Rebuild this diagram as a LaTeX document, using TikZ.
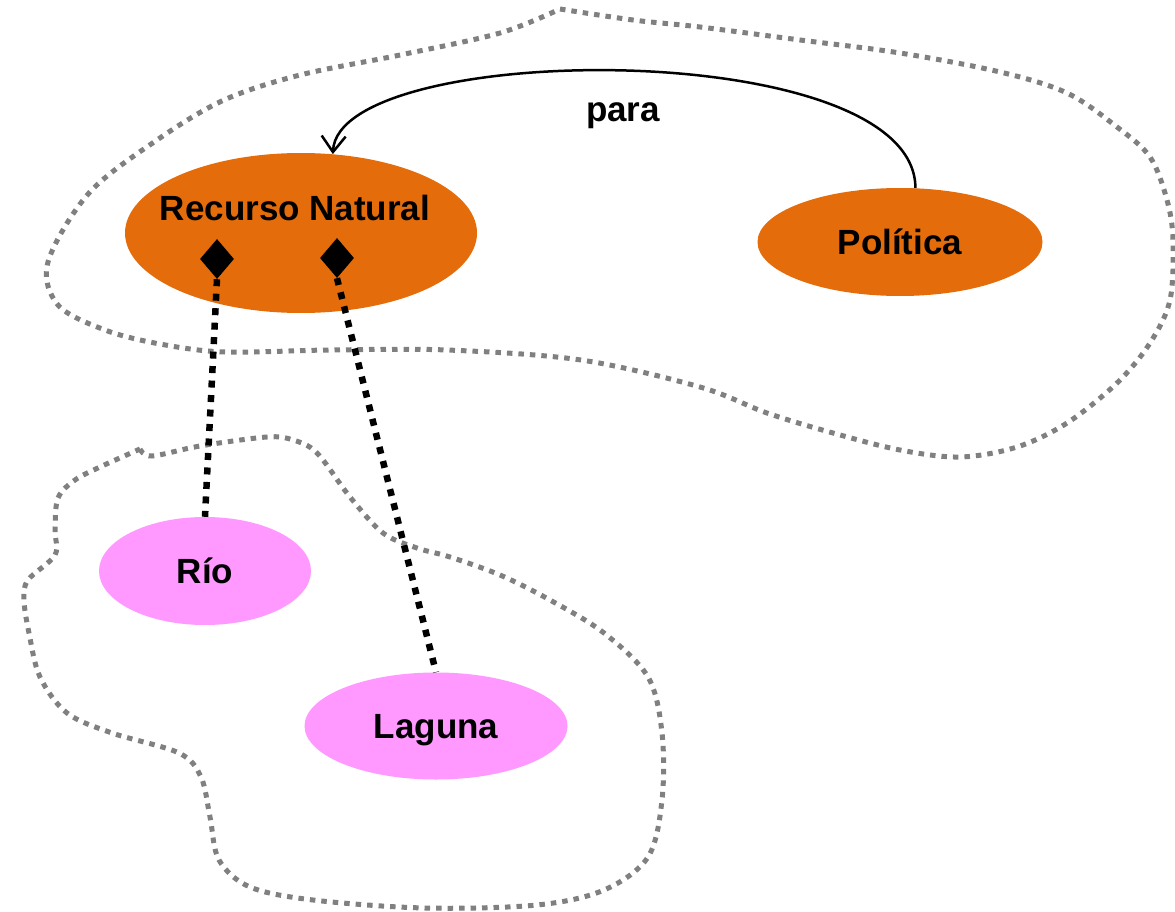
\documentclass[tikz,border=0pt]{standalone}
\usepackage{fontspec}
\setmainfont{Liberation Sans}
\usetikzlibrary{arrows.meta,shapes.geometric}
\definecolor{orng}{RGB}{228,108,10}
\definecolor{pnk}{RGB}{255,153,255}
\definecolor{grp}{RGB}{128,128,128}
\begin{document}
\begin{tikzpicture}[x=1pt,y=-1pt,
  txt/.style={inner sep=0pt, font=\fontsize{35pt}{42pt}\selectfont\bfseries},
  ent/.style={ellipse, inner sep=0pt, text height=25pt, text depth=0pt,
    font=\fontsize{35pt}{42pt}\selectfont\bfseries},
  grpline/.style={draw=grp, line width=5pt, dash pattern=on 5.5pt off 6pt},
  agg/.style={draw=black, line width=6.5pt, dash pattern=on 7pt off 7.5pt},
  knob/.style={diamond, fill=black, inner sep=0pt, minimum width=34pt, minimum height=40pt},
  rel/.style={draw=black, line width=2.5pt, -{Straight Barb[length=16pt,width=24pt]}}]
\useasboundingbox (0,0) rectangle (1175,912);
% group outlines
\draw[grpline] plot[smooth, tension=0.55] coordinates {(560,9) (633,20) (700,27) (800,40) (900,53) (1000,72) (1067,93) (1117,127) (1150,157) (1167,200) (1173,240) (1170,300) (1150,343) (1117,383) (1067,423) (1017,447) (960,457) (900,450) (833,433) (767,413) (700,387) (581,360) (447,350) (330,350) (225,352) (160,344) (105,330) (58,305) (48,262) (89,193) (157,140) (224,100) (300,75) (400,55) (500,33) (560,9)};
\draw[grpline] plot[smooth, tension=0.55] coordinates {(140,449) (152,456) (200,446) (267,437) (293,440) (317,453) (350,497) (383,533) (417,548) (450,557) (500,575) (550,600) (604,633) (648,677) (662,733) (662,800) (648,857) (604,890) (537,905) (425,908) (313,900) (250,887) (219,860) (210,817) (201,777) (179,753) (112,733) (67,713) (40,677) (29,633) (24,600) (28,580) (55,555) (55,530) (58,498) (75,480) (100,467) (140,449)};
% entities
\node[ent, fill=orng, minimum width=352pt, minimum height=160pt, text depth=49pt] (rn) at (301,233) {\makebox[0pt]{Recurso Natural\hspace{12pt}}};
\node[ent, fill=orng, minimum width=285pt, minimum height=108pt] (pol) at (900,242) {Política};
\node[ent, fill=pnk, minimum width=212pt, minimum height=108pt] (rio) at (205,571) {Río};
\node[ent, fill=pnk, minimum width=263pt, minimum height=107pt] (lag) at (436,726) {Laguna};
% aggregation ends
\node[knob] (k1) at (217,259) {};
\node[knob] (k2) at (337,258) {};
% connectors
\draw[agg] (k1.south) -- (rio.north);
\draw[agg] (k2.south) -- (lag.north);
\draw[rel] (pol.74) .. controls (915,35) and (338,40) .. (rn.68);
\node[txt, anchor=base] (para) at (623,122) {para};
\end{tikzpicture}
\end{document}
